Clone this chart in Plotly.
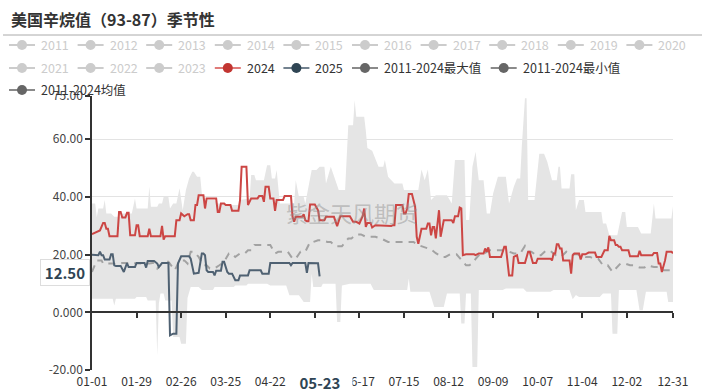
import plotly.graph_objects as go

# ------------------------------------------------------------------ data
TITLE = "美国辛烷值（93-87）季节性"
WATERMARK = "紫金天风期货"

# x axis: day-of-year index (leap-year calendar, 0 = 01-01, 365 = 12-31)
TICK_DAYS = [0, 28, 56, 84, 112, 140, 168, 196, 224, 252, 280, 308, 336, 365]
TICK_LABELS = ["01-01", "01-29", "02-26", "03-25", "04-22", "", "06-17",
               "07-15", "08-12", "09-09", "10-07", "11-04", "12-02", "12-31"]
Y_TICKS = [-20, 0, 20, 40, 60, 75]
Y_TICK_TEXT = ["-20.00", "0.000", "20.00", "40.00", "60.00", "75.00"]

LEGEND_ROW1 = ["2011", "2012", "2013", "2014", "2015", "2016", "2017", "2018", "2019", "2020"]
LEGEND_ROW2 = ["2021", "2022", "2023", "2024", "2025", "2011-2024最大值", "2011-2024最小值"]
LEGEND_ROW3 = ["2011-2024均值"]

POINTER_DAY = 143          # 05-23
POINTER_LABEL = "05-23"
POINTER_VALUE = 12.50

D2024 = [0, 3, 5, 7, 8, 9, 10, 11, 16, 17,
         18, 19, 21, 22, 23, 24, 27, 28, 29, 30,
         35, 36, 37, 43, 44, 45, 46, 52, 53, 55,
         56, 58, 60, 61, 62, 64, 65, 66, 67, 70,
         71, 72, 78, 79, 80, 81, 83, 84, 87, 88,
         92, 93, 94, 97, 98, 100, 104, 105, 107, 108,
         109, 111, 112, 114, 115, 116, 120, 121, 125, 126,
         127, 128, 132, 133, 134, 135, 136, 137, 140, 142,
         143, 146, 147, 152, 154, 156, 162, 164, 166, 168,
         170, 171, 172, 173, 175, 176, 178, 188, 189, 190,
         191, 195, 196, 197, 198, 199, 201, 203, 204, 205,
         207, 210, 211, 212, 213, 214, 215, 216, 218, 219,
         221, 226, 227, 228, 230, 231, 232, 233, 235, 240,
         241, 243, 246, 247, 248, 249, 250, 257, 259, 260,
         262, 264, 265, 267, 268, 272, 274, 275, 277, 279,
         280, 288, 289, 290, 291, 292, 293, 294, 295, 296,
         300, 301, 302, 303, 306, 307, 308, 310, 312, 316,
         317, 320, 322, 324, 325, 326, 328, 329, 330, 331,
         332, 333, 337, 338, 343, 344, 345, 352, 353, 355,
         356, 357, 358, 360, 361, 364, 365]
V2024 = [27.1, 27.9, 28.4, 31.0, 31.0, 29.0, 29.0, 26.4, 26.4, 34.8,
         34.8, 32.9, 32.9, 34.5, 34.5, 26.7, 26.7, 30.2, 30.2, 26.4,
         26.4, 29.0, 26.4, 26.4, 30.0, 25.2, 26.4, 26.4, 31.9, 31.9,
         34.3, 33.3, 34.0, 34.0, 31.9, 31.9, 37.2, 37.2, 40.6, 40.6,
         36.0, 39.5, 39.5, 34.8, 34.8, 37.7, 37.7, 37.2, 37.2, 35.2,
         35.2, 38.9, 50.5, 50.5, 37.2, 39.5, 39.5, 40.3, 40.3, 38.3,
         43.5, 43.5, 39.5, 39.5, 35.2, 38.9, 38.9, 40.3, 40.3, 33.1,
         31.4, 33.1, 33.1, 34.0, 31.9, 31.6, 31.6, 37.4, 37.4, 35.4,
         31.9, 31.9, 33.1, 33.1, 29.9, 33.3, 33.3, 31.4, 31.4, 30.8,
         33.3, 36.0, 29.6, 31.0, 31.0, 29.4, 30.2, 29.9, 30.2, 30.2,
         37.2, 37.2, 34.3, 34.3, 36.0, 41.0, 41.0, 36.6, 26.2, 23.8,
         29.0, 29.0, 30.8, 30.8, 26.7, 29.6, 29.6, 25.6, 35.4, 26.2,
         31.9, 31.9, 31.0, 33.3, 33.3, 36.3, 36.0, 19.8, 20.1, 20.1,
         19.8, 20.4, 20.4, 22.1, 21.0, 22.5, 19.2, 19.2, 22.7, 22.7,
         12.8, 12.8, 19.2, 19.8, 17.1, 17.1, 21.0, 21.0, 17.1, 17.1,
         18.6, 18.6, 18.0, 20.4, 20.4, 23.6, 23.6, 22.1, 22.1, 18.0,
         18.0, 13.4, 19.8, 20.4, 20.4, 18.3, 20.1, 20.1, 20.7, 20.7,
         19.2, 19.2, 21.5, 21.5, 26.5, 25.0, 25.0, 23.3, 23.3, 22.7,
         22.7, 21.5, 21.5, 19.4, 19.4, 21.3, 19.8, 19.8, 20.6, 20.6,
         16.9, 16.9, 14.0, 18.0, 21.0, 21.0, 20.5]

D2025 = [0, 4, 5, 6, 7, 8, 11, 12, 13, 14,
         15, 18, 20, 22, 23, 27, 28, 33, 34, 35,
         39, 41, 42, 44, 48, 49, 51, 53, 54, 56,
         61, 62, 64, 66, 67, 69, 70, 71, 72, 73,
         76, 77, 78, 81, 82, 83, 85, 86, 88, 90,
         92, 93, 98, 99, 106, 107, 111, 112, 124, 125,
         126, 134, 135, 136, 141, 142, 143]
V2025 = [20.0, 19.8, 21.0, 19.8, 19.8, 18.3, 18.3, 20.1, 20.1, 16.3,
         16.1, 16.1, 14.0, 17.1, 15.7, 15.7, 17.1, 17.1, 15.5, 17.8,
         17.8, 16.9, 15.7, 17.1, 17.1, -8.0, -7.4, -7.4, 16.9, 19.4,
         19.4, 18.6, 13.4, 13.7, 13.7, 20.4, 20.4, 19.8, 14.6, 14.0,
         14.0, 12.8, 14.4, 14.4, 17.5, 17.5, 14.0, 13.4, 13.4, 11.1,
         11.1, 12.8, 12.8, 14.6, 14.6, 13.4, 13.4, 17.1, 17.1, 16.3,
         17.1, 17.1, 13.7, 17.1, 17.1, 17.0, 12.5]

DMEAN = [0, 3, 6, 7, 13, 16, 19, 25, 30, 36,
         39, 41, 44, 46, 48, 52, 55, 58, 60, 62,
         64, 67, 70, 72, 74, 77, 80, 83, 86, 88,
         90, 93, 96, 98, 100, 102, 106, 110, 112, 115,
         117, 123, 126, 128, 131, 134, 137, 139, 142, 144,
         148, 150, 153, 157, 161, 163, 166, 169, 172, 178,
         182, 186, 197, 202, 205, 209, 213, 216, 220, 222,
         225, 229, 232, 235, 237, 239, 241, 244, 246, 250,
         253, 257, 260, 265, 269, 272, 274, 276, 279, 282,
         285, 288, 292, 295, 298, 302, 305, 310, 313, 315,
         318, 321, 324, 327, 332, 335, 338, 340, 344, 347,
         349, 353, 356, 359, 363, 365]
VMEAN = [14.0, 18.0, 18.0, 16.9, 16.9, 16.7, 17.1, 17.1, 16.9, 16.9,
         17.2, 15.2, 16.9, 17.5, 17.5, 14.6, 18.0, 18.0, 16.9, 21.0,
         21.0, 19.2, 16.3, 16.3, 15.2, 15.2, 16.3, 17.5, 20.4, 20.4,
         19.2, 20.4, 20.4, 21.5, 21.5, 23.3, 23.3, 23.3, 23.3, 20.4,
         21.0, 21.0, 18.6, 18.6, 21.0, 21.0, 24.4, 24.4, 25.0, 25.0,
         24.4, 24.4, 22.9, 22.9, 25.6, 25.6, 27.0, 27.0, 26.2, 26.2,
         25.5, 24.4, 24.4, 24.4, 23.3, 22.5, 21.8, 20.5, 19.2, 19.2,
         20.1, 20.1, 18.0, 16.3, 16.3, 17.0, 18.5, 20.4, 20.4, 21.5,
         21.5, 21.5, 21.5, 20.4, 20.4, 23.0, 21.0, 21.0, 19.8, 19.8,
         21.3, 21.3, 19.4, 19.4, 21.0, 20.1, 20.1, 19.2, 19.2, 18.6,
         18.6, 16.3, 16.3, 14.0, 16.9, 16.9, 16.3, 16.3, 15.5, 15.5,
         16.3, 15.7, 15.7, 14.6, 14.6, 13.5]

DMAX = [0, 2, 3, 4, 7, 8, 9, 12, 14, 18,
        19, 25, 27, 28, 35, 36, 37, 41, 42, 44,
        45, 48, 49, 51, 53, 55, 57, 59, 61, 63,
        64, 66, 68, 69, 71, 77, 79, 83, 85, 92,
        93, 99, 100, 102, 103, 108, 110, 112, 113, 115,
        116, 118, 127, 128, 130, 133, 134, 136, 138, 141,
        143, 146, 147, 150, 152, 155, 159, 161, 164, 165,
        166, 171, 172, 173, 176, 179, 180, 183, 184, 186,
        188, 190, 195, 196, 205, 207, 209, 211, 213, 216,
        223, 226, 228, 234, 235, 237, 239, 241, 242, 243,
        246, 248, 250, 252, 255, 260, 262, 265, 267, 269,
        270, 272, 273, 274, 278, 281, 284, 286, 289, 292,
        293, 294, 295, 300, 301, 303, 304, 306, 309, 310,
        320, 321, 323, 325, 330, 332, 333, 335, 336, 343,
        345, 351, 353, 354, 364, 365]
VMAX = [37.7, 37.7, 33.0, 36.0, 36.0, 38.9, 34.3, 34.3, 33.1, 33.1,
        34.3, 34.3, 39.5, 36.0, 36.0, 43.5, 36.6, 36.6, 37.7, 37.7,
        40.0, 40.0, 36.0, 37.7, 37.7, 43.0, 35.4, 42.4, 46.4, 48.7,
        48.7, 47.0, 47.0, 41.2, 38.9, 38.9, 37.7, 37.7, 37.2, 37.2,
        38.9, 39.5, 47.6, 47.6, 45.8, 45.8, 51.0, 51.0, 46.4, 46.4,
        49.3, 37.7, 37.7, 45.8, 40.0, 40.0, 37.7, 43.5, 49.3, 49.3,
        50.5, 50.5, 44.7, 50.5, 47.0, 42.4, 42.4, 64.9, 64.9, 73.5,
        67.8, 67.8, 63.0, 57.0, 56.0, 52.0, 50.5, 50.5, 52.8, 47.0,
        45.8, 44.7, 44.7, 42.4, 42.4, 49.5, 45.8, 49.5, 38.9, 40.6,
        40.6, 37.7, 52.8, 52.8, 32.0, 32.0, 50.5, 55.7, 50.5, 45.8,
        45.8, 34.3, 34.3, 41.2, 47.0, 47.0, 37.7, 43.5, 46.4, 46.4,
        57.4, 74.2, 74.2, 38.9, 38.9, 55.0, 55.0, 52.2, 45.8, 45.8,
        50.5, 50.5, 42.9, 42.9, 47.9, 47.9, 35.4, 38.9, 38.9, 34.8,
        34.8, 30.8, 30.8, 26.7, 26.7, 32.0, 34.8, 34.8, 29.6, 29.6,
        27.3, 27.3, 37.7, 32.5, 32.5, 36.8]

DMIN = [0, 13, 14, 15, 27, 28, 34, 35, 40, 41,
        42, 43, 45, 46, 50, 51, 55, 56, 59, 60,
        62, 67, 69, 76, 77, 89, 90, 97, 98, 110,
        112, 122, 124, 130, 133, 137, 138, 139, 144, 145,
        153, 154, 156, 157, 162, 175, 177, 198, 199, 200,
        212, 215, 221, 223, 231, 232, 234, 235, 238, 239,
        242, 243, 258, 260, 271, 273, 288, 290, 300, 302,
        304, 306, 319, 321, 326, 327, 330, 331, 342, 344,
        346, 348, 361, 362, 365]
VMIN = [4.7, 4.7, 2.4, 4.7, 4.7, 5.3, 5.3, 4.1, 4.1, -15.0,
        3.0, 6.5, 6.5, 4.1, 4.1, -8.6, -8.6, -10.9, -10.9, 5.0,
        8.8, 8.8, 7.7, 7.7, 8.8, 8.8, 9.3, 9.3, 9.9, 9.9,
        9.3, 9.3, 5.9, 5.9, 3.6, 3.6, 13.4, 8.8, 8.8, 9.9,
        9.9, -3.4, -3.4, 9.3, 9.9, 9.9, 7.7, 7.7, 11.7, 7.1,
        7.1, 1.8, 1.8, 6.5, 6.5, -3.9, -3.9, 6.5, 6.5, -19.0,
        -19.0, 7.7, 7.7, 8.3, 8.3, 7.1, 7.1, 7.7, 7.7, 4.5,
        6.0, 5.3, 5.3, 6.5, 6.5, -7.4, -7.4, 7.7, 7.7, 0.7,
        0.7, 7.1, 7.1, 3.6, 3.6]

# ------------------------------------------------------------------ style
FONT = "Noto Sans CJK SC, Noto Sans, sans-serif"
RED = "#cc4644"
DARK = "#4f6172"
BAND = "#e5e5e5"
MEAN_C = "#a2a2a2"

W, H = 702, 392
PL, PR, PT, PB = 92, 673, 96, 370


def px(x):
    return (x - PL) / (PR - PL)


def py(y):
    return (PB - y) / (PB - PT)


fig = go.Figure()
fig.add_trace(go.Scatter(x=DMIN, y=VMIN, mode="lines", line=dict(width=0, color=BAND),
                         hoverinfo="skip", name="2011-2024最小值"))
fig.add_trace(go.Scatter(x=DMAX, y=VMAX, mode="lines", line=dict(width=0, color=BAND),
                         fill="tonexty", fillcolor=BAND, name="2011-2024最大值"))
fig.add_trace(go.Scatter(x=DMEAN, y=VMEAN, mode="lines",
                         line=dict(color=MEAN_C, width=2, dash="7px,6px"), name="2011-2024均值"))
fig.add_trace(go.Scatter(x=D2024, y=V2024, mode="lines", line=dict(color=RED, width=2), name="2024"))
fig.add_trace(go.Scatter(x=D2025, y=V2025, mode="lines", line=dict(color=DARK, width=2), name="2025"))
fig.add_trace(go.Scatter(x=[TICK_DAYS[0], TICK_DAYS[-1]], y=[None, None], xaxis="x2",
                         hoverinfo="skip", showlegend=False))

shapes = []
annotations = []

# title + separator
annotations.append(dict(text="<b>" + TITLE + "</b>", x=px(9), y=py(19), xref="paper", yref="paper",
                        xanchor="left", yanchor="middle", showarrow=False,
                        font=dict(size=16, color="#333", family=FONT)))
shapes.append(dict(type="line", xref="paper", yref="paper", x0=px(3), x1=px(702), y0=py(35), y1=py(35),
                   line=dict(color="#aaaaaa", width=1)))

# legend (drawn by hand to reproduce the echarts layout)
enabled = {
    "2024": ("#e07b79", "#c23531"),
    "2025": ("#73828f", "#2f4554"),
    "2011-2024最大值": ("#8a8a8a", "#666666"),
    "2011-2024最小值": ("#8a8a8a", "#666666"),
    "2011-2024均值": ("#8a8a8a", "#666666"),
}
rows = [(LEGEND_ROW1, 45, [40 + 68.6 * i for i in range(10)]),
        (LEGEND_ROW2, 68, [40 + 68.6 * i for i in range(6)] + [521.7]),
        (LEGEND_ROW3, 90, [40])]
for names, ty, xs in rows:
    for name, tx in zip(names, xs):
        if name in enabled:
            lc, cc = enabled[name]
            txtc = "#333"
        else:
            lc, cc, txtc = "#cccccc", "#cccccc", "#cccccc"
        shapes.append(dict(type="line", xref="paper", yref="paper", x0=px(tx - 31), x1=px(tx - 5),
                           y0=py(ty), y1=py(ty), line=dict(color=lc, width=2)))
        shapes.append(dict(type="circle", xref="paper", yref="paper", x0=px(tx - 23), x1=px(tx - 13),
                           y0=py(ty + 5), y1=py(ty - 5), fillcolor=cc, line=dict(width=0)))
        annotations.append(dict(text=name, x=px(tx - 1), y=py(ty), xref="paper", yref="paper",
                                xanchor="left", yanchor="middle", showarrow=False,
                                font=dict(size=12.5, color=txtc, family=FONT)))

# watermark
annotations.append(dict(text=WATERMARK, x=px(352), y=py(212), xref="paper", yref="paper",
                        showarrow=False, font=dict(size=22, color="rgba(140,140,140,0.45)", family=FONT)))

# axis pointer labels
annotations.append(dict(text="<b>" + POINTER_LABEL + "</b>", x=POINTER_DAY, y=py(382), xref="x", yref="paper",
                        xanchor="center", yanchor="middle", showarrow=False, bgcolor="white",
                        width=62, borderpad=1, font=dict(size=15, color="#2f4554", family=FONT)))
annotations.append(dict(text="<b>%.2f</b>" % POINTER_VALUE, x=px(90), y=POINTER_VALUE, xref="paper", yref="y",
                        xanchor="right", yanchor="middle", yshift=4, showarrow=False, bgcolor="white",
                        bordercolor="#dddddd", borderwidth=1, width=44, borderpad=2,
                        font=dict(size=15, color="#2f4554", family=FONT)))

fig.update_layout(
    width=W, height=H,
    margin=dict(l=PL, r=W - PR, t=PT, b=H - PB, autoexpand=False),
    paper_bgcolor="white", plot_bgcolor="white",
    showlegend=False,
    font=dict(family=FONT, size=12, color="#333"),
    xaxis=dict(range=[TICK_DAYS[0], TICK_DAYS[-1]], tickvals=TICK_DAYS, ticktext=TICK_LABELS,
               showgrid=False, zeroline=False, showline=False, ticks="", automargin=False,
               tickfont=dict(size=12, color="#333", family=FONT), ticklabelstandoff=3),
    xaxis2=dict(overlaying="x", matches="x", anchor="free", position=20 / 95, side="bottom",
                showline=True, linecolor="#333", linewidth=1.5, ticks="outside", ticklen=5,
                tickcolor="#333", tickwidth=1.5, tickvals=TICK_DAYS[1:], showticklabels=False,
                showgrid=False, zeroline=False, automargin=False),
    yaxis=dict(range=[-20, 75], tickvals=Y_TICKS, ticktext=Y_TICK_TEXT, automargin=False,
               showgrid=True, gridcolor="#e3e3e3", gridwidth=1, zeroline=False,
               showline=True, linecolor="#333", linewidth=1.5, ticks="outside", ticklen=5,
               tickcolor="#333", tickwidth=1.5, tickfont=dict(size=12, color="#444", family=FONT)),
    shapes=shapes,
    annotations=annotations,
    hovermode=False,
)

fig.write_html("out.html",
               config={"displayModeBar": False, "staticPlot": False},
               post_script="document.documentElement.style.margin='0';"
                           "document.body.style.margin='0';document.body.style.padding='0';")
